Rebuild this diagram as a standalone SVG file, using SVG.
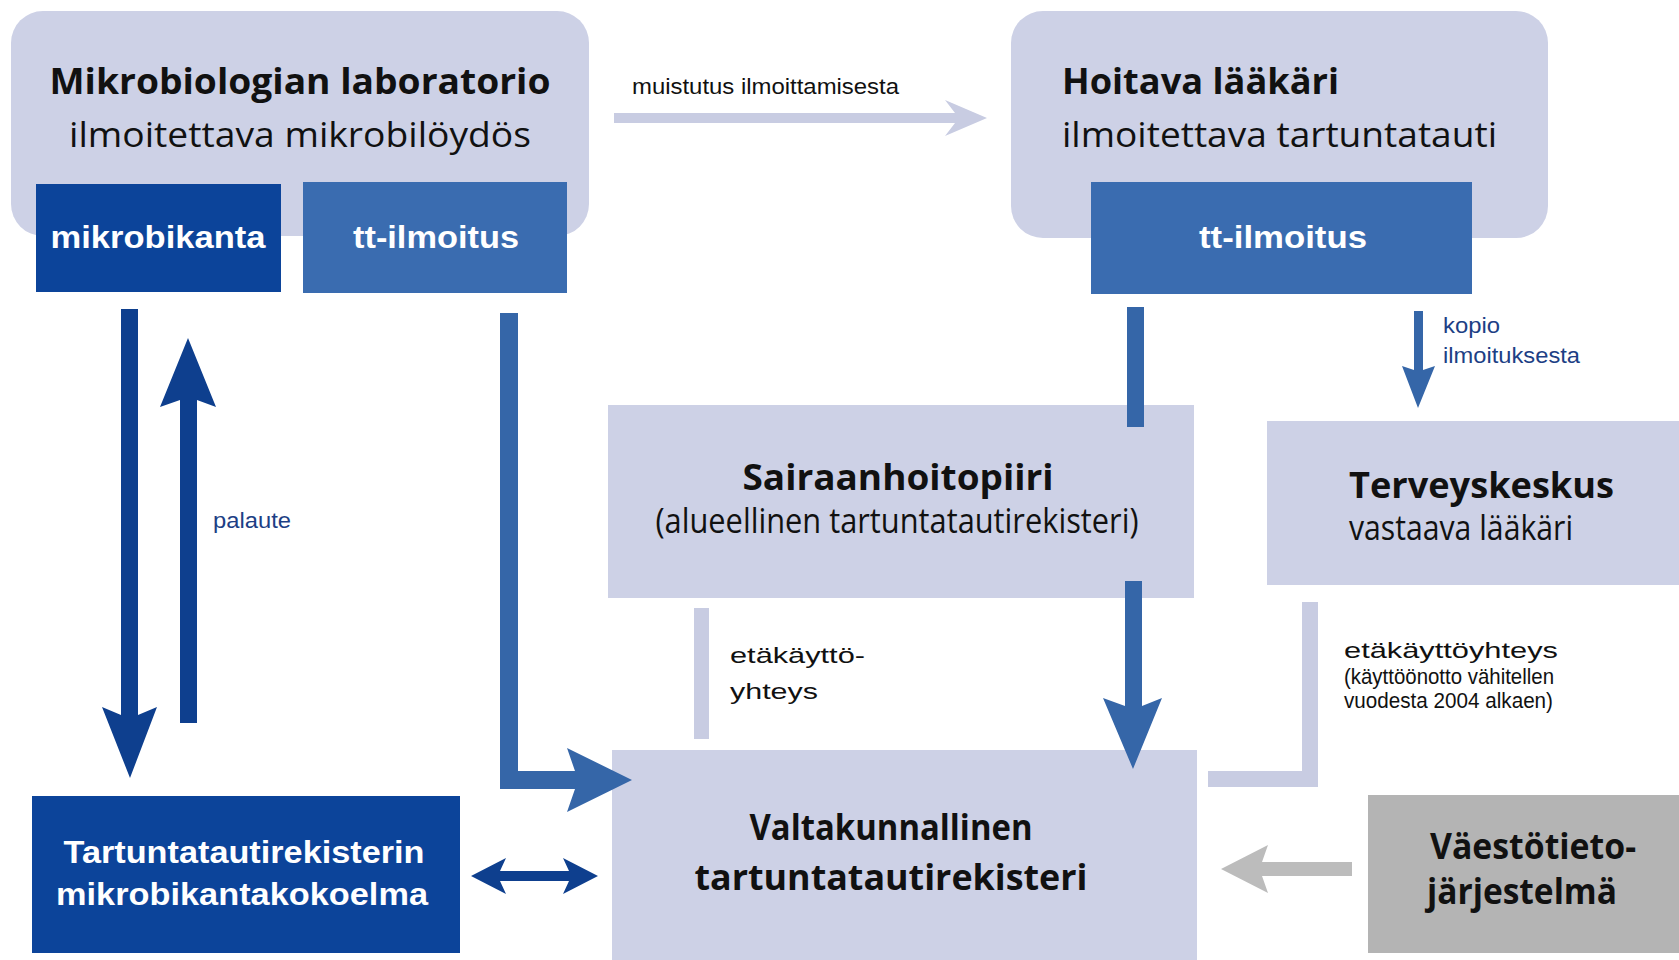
<svg xmlns="http://www.w3.org/2000/svg" width="1679" height="960" viewBox="0 0 1679 960">
<style>
.lav{fill:#cdd1e6}
.dk{fill:#0c449a}
.md{fill:#3a6cb0}
.gr{fill:#b4b4b4}
.cdk{fill:#0e3f8e}
.cmd{fill:#3566a8}
.clav{fill:#c8cce2}
.cgr{fill:#bcbcbc}
.tb{font-family:"Open Sans","Noto Sans",sans-serif;font-weight:bold;font-size:36px;fill:#111}
.tr{font-family:"Open Sans","Noto Sans",sans-serif;font-size:34px;fill:#111}
.wb{font-family:"Liberation Sans",Arial,sans-serif;font-weight:bold;font-size:32px;fill:#fff}
.lbl{font-family:"Liberation Sans",Arial,sans-serif;font-size:22px}
.blue{fill:#1d3f85}
.blk{fill:#111}
</style>
<rect width="1679" height="960" fill="#fff"/>

<g id="lab">
  <rect class="lav" x="11" y="11" width="578" height="225" rx="32"/>
  <text class="tb" x="300" y="94" text-anchor="middle" textLength="501" lengthAdjust="spacingAndGlyphs">Mikrobiologian laboratorio</text>
  <text class="tr" x="300" y="147" text-anchor="middle" textLength="462" lengthAdjust="spacingAndGlyphs">ilmoitettava mikrobilöydös</text>
</g>
<g id="mikrobikanta">
  <rect class="dk" x="36" y="184" width="245" height="108"/>
  <text class="wb" x="158" y="248" text-anchor="middle" textLength="215" lengthAdjust="spacingAndGlyphs">mikrobikanta</text>
</g>
<g id="lab-tt-ilmoitus">
  <rect class="md" x="303" y="182" width="264" height="111"/>
  <text class="wb" x="436" y="248" text-anchor="middle" textLength="166" lengthAdjust="spacingAndGlyphs">tt-ilmoitus</text>
</g>

<g id="hoitava">
  <rect class="lav" x="1011" y="11" width="537" height="227" rx="32"/>
  <text class="tb" x="1062" y="94" textLength="277" lengthAdjust="spacingAndGlyphs">Hoitava lääkäri</text>
  <text class="tr" x="1062" y="147" textLength="435" lengthAdjust="spacingAndGlyphs">ilmoitettava tartuntatauti</text>
</g>
<g id="doctor-tt-ilmoitus">
  <rect class="md" x="1091" y="182" width="381" height="112"/>
  <text class="wb" x="1283" y="248" text-anchor="middle" textLength="168" lengthAdjust="spacingAndGlyphs">tt-ilmoitus</text>
</g>

<g id="sairaanhoitopiiri">
  <rect class="lav" x="608" y="405" width="586" height="193"/>
  <text class="tb" x="898" y="490" text-anchor="middle" textLength="311" lengthAdjust="spacingAndGlyphs">Sairaanhoitopiiri</text>
  <text class="tr" x="897" y="533" font-size="30" text-anchor="middle" textLength="483" lengthAdjust="spacingAndGlyphs">(alueellinen tartuntatautirekisteri)</text>
</g>

<g id="terveyskeskus">
  <rect class="lav" x="1267" y="421" width="412" height="164"/>
  <text class="tb" x="1349" y="498" textLength="265" lengthAdjust="spacingAndGlyphs">Terveyskeskus</text>
  <text class="tr" x="1349" y="540" font-size="30" textLength="224" lengthAdjust="spacingAndGlyphs">vastaava lääkäri</text>
</g>

<g id="valtakunnallinen">
  <rect class="lav" x="612" y="750" width="585" height="210"/>
  <text class="tb" x="891" y="840" text-anchor="middle" textLength="283" lengthAdjust="spacingAndGlyphs">Valtakunnallinen</text>
  <text class="tb" x="891" y="890" text-anchor="middle" textLength="393" lengthAdjust="spacingAndGlyphs">tartuntatautirekisteri</text>
</g>

<g id="mikrobikantakokoelma">
  <rect class="dk" x="32" y="796" width="428" height="157"/>
  <text class="wb" x="244" y="863" text-anchor="middle" font-size="31" textLength="361" lengthAdjust="spacingAndGlyphs">Tartuntatautirekisterin</text>
  <text class="wb" x="242" y="905" text-anchor="middle" font-size="31" textLength="372" lengthAdjust="spacingAndGlyphs">mikrobikantakokoelma</text>
</g>

<g id="vaestotietojarjestelma">
  <rect class="gr" x="1368" y="795" width="311" height="158"/>
  <text class="tb" x="1430" y="859" textLength="206" lengthAdjust="spacingAndGlyphs">Väestötieto-</text>
  <text class="tb" x="1427" y="904" textLength="190" lengthAdjust="spacingAndGlyphs">järjestelmä</text>
</g>

<g id="connectors">
  <!-- muistutus -->
  <path class="clav" d="M614,113 H955 L945,100 L987,118 L945,136 L955,123 H614 Z"/>
  <!-- mikrobikanta down -->
  <path class="cdk" d="M121,309 H138 V715 L157,707 L130,778 L102,707 L121,715 Z"/>
  <!-- palaute up -->
  <path class="cdk" d="M180,723 V400 L160,407 L188,338 L216,407 L197,400 V723 Z"/>
  <!-- lab tt-ilmoitus to valtakunnallinen -->
  <path class="cmd" d="M500,313 H518 V771 H575 L567,748 L632,780 L567,812 L575,789 H500 Z"/>
  <!-- doctor tt-ilmoitus to sairaanhoitopiiri -->
  <rect class="cmd" x="1127" y="307" width="17" height="120"/>
  <!-- sairaanhoitopiiri to valtakunnallinen -->
  <path class="cmd" d="M1125,581 H1142 V706 L1162,698 L1133,769 L1103,698 L1125,706 Z"/>
  <!-- kopio -->
  <path class="cmd" d="M1414,311 H1423 V370 L1435,366 L1418,408 L1402,366 L1414,370 Z"/>
  <!-- etakaytto left -->
  <rect class="clav" x="694" y="608" width="15" height="131"/>
  <!-- etakaytto right L -->
  <path class="clav" d="M1302,602 H1318 V787 H1208 V771 H1302 Z"/>
  <!-- vaestotieto arrow -->
  <path class="cgr" d="M1352,862 V876 H1262 L1268,893 L1221,869 L1268,845 L1262,862 Z"/>
  <!-- double arrow -->
  <path class="cdk" d="M471,876 L506,858 L500,871 H569 L563,858 L598,876 L563,894 L569,881 H500 L506,894 Z"/>
  <text class="lbl blk" x="632" y="94" textLength="267" lengthAdjust="spacingAndGlyphs">muistutus ilmoittamisesta</text>
  <text class="lbl blue" x="213" y="528" textLength="78" lengthAdjust="spacingAndGlyphs">palaute</text>
  <text class="lbl blue" x="1443" y="333" textLength="57" lengthAdjust="spacingAndGlyphs">kopio</text>
  <text class="lbl blue" x="1443" y="363" textLength="137" lengthAdjust="spacingAndGlyphs">ilmoituksesta</text>
  <text class="lbl blk" x="730" y="663" font-size="30" textLength="135" lengthAdjust="spacingAndGlyphs">etäkäyttö-</text>
  <text class="lbl blk" x="730" y="699" font-size="30" textLength="88" lengthAdjust="spacingAndGlyphs">yhteys</text>
  <text class="lbl blk" x="1344" y="658" font-size="30" textLength="214" lengthAdjust="spacingAndGlyphs">etäkäyttöyhteys</text>
  <text class="lbl blk" x="1344" y="684" font-size="20" textLength="210" lengthAdjust="spacingAndGlyphs">(käyttöönotto vähitellen</text>
  <text class="lbl blk" x="1344" y="708" font-size="20" textLength="209" lengthAdjust="spacingAndGlyphs">vuodesta 2004 alkaen)</text>
</g>
</svg>
